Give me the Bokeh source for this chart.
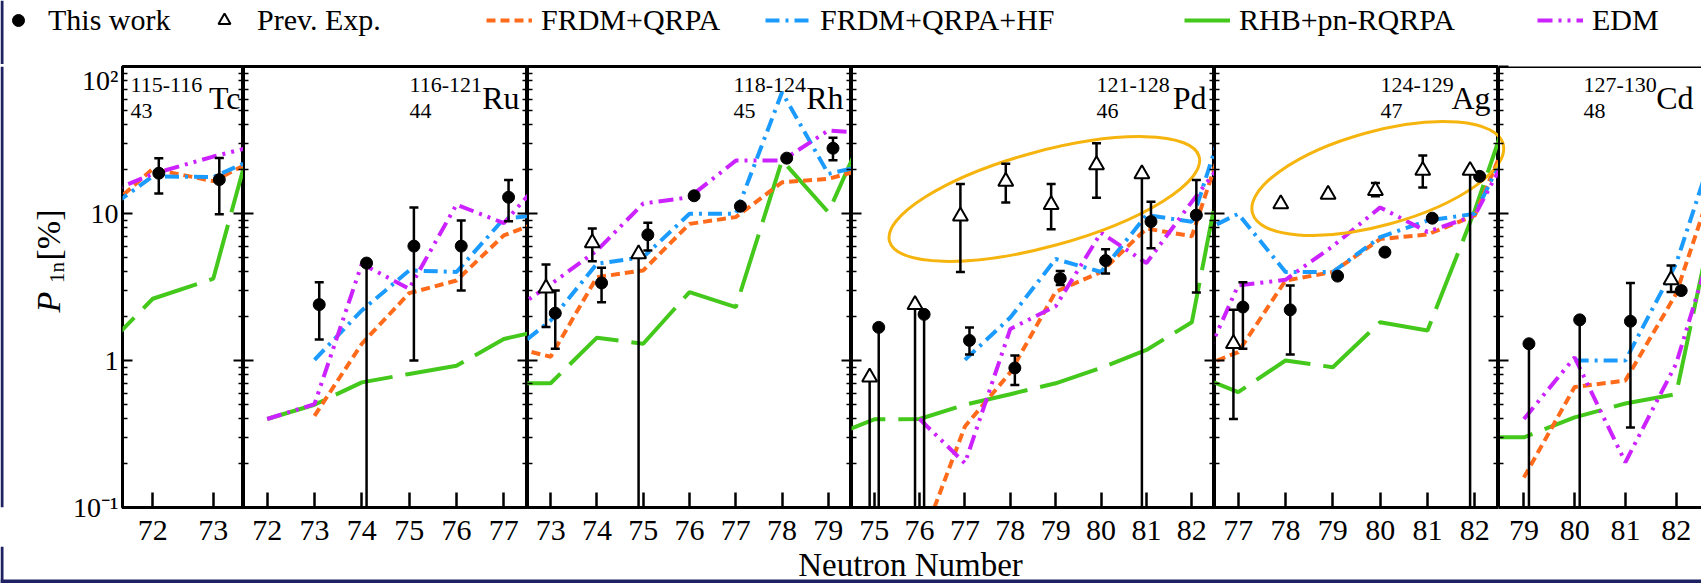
import math
from bokeh.plotting import figure
from bokeh.models import (ColumnDataSource, Range1d, LogAxis, FixedTicker,
                          CustomJSTickFormatter, Label, Legend, LegendItem, Span, BoxAnnotation)
from bokeh.layouts import row, column
from bokeh.transform import dodge
from bokeh.embed import file_html
from bokeh.resources import INLINE

nan = float("nan")

# ---------------------------------------------------------------- data
ELEMENTS = ["Tc", "Ru", "Rh", "Pd", "Ag", "Cd"]
Z_NUMBERS = ["43", "44", "45", "46", "47", "48"]
MASS_RANGES = ["115-116", "116-121", "118-124", "121-128", "124-129", "127-130"]
N_TICKS = [[72, 73], [72, 73, 74, 75, 76, 77], [73, 74, 75, 76, 77, 78, 79],
           [75, 76, 77, 78, 79, 80, 81, 82], [77, 78, 79, 80, 81, 82], [79, 80, 81, 82]]
Y_TICKS = [0.1, 1, 10, 100]
Y_TICK_LABELS = ["10\u207b\u00b9", "1", "10", "10\u00b2"]
SERIES_LABELS = ["This work", "Prev. Exp.", "FRDM+QRPA", "FRDM+QRPA+HF", "RHB+pn-RQRPA", "EDM"]

# theory curves (P1n in %)
TC_N = [71, 72, 73, 74]
TC_FRDM = [8.7, 20.1, 16.6, 27]
TC_HF = [9.0, 17.9, 17.7, 27]
TC_RHB = [1.0, 2.63, 3.6, 115]
TC_EDM = [12.5, 18.6, 24.4, 31]

RU_N = [72, 73, 74, 75, 76, 77, 78]
RU_FRDM = [nan, 0.42, 1.30, 2.87, 3.5, 7.1, 9.4]
RU_HF = [nan, 1.01, 2.19, 4.1, 4.0, 9.2, 10]
RU_RHB = [0.40, 0.50, 0.71, 0.81, 0.92, 1.40, 1.66]
RU_EDM = [0.40, 0.505, 4.55, 3.08, 11.5, 8.6, 20]

RH_N = [72, 73, 74, 75, 76, 77, 78, 79, 80]
RH_FRDM = [1.27, 1.06, 3.69, 4.1, 8.5, 9.45, 16.3, 17.2, 21]
RH_HF = [1.05, 1.87, 4.55, 5.05, 9.95, 9.95, 66.8, 18.6, 22]
RH_RHB = [0.70, 0.70, 1.43, 1.30, 2.92, 2.31, 23.0, 10.2, 51]
RH_EDM = [2.0, 3.3, 5.6, 11.7, 12.9, 22.9, 22.9, 36.7, 35]

PD_N = [74, 75, 76, 77, 78, 79, 80, 81, 82, 83]
PD_FRDM = [nan, nan, 0.054, 0.356, 0.83, 2.94, 4.0, 7.9, 7.0, 60]
PD_HF = [nan, nan, nan, 1.01, 1.96, 4.9, 4.0, 9.75, 8.8, 80]
PD_RHB = [0.30, 0.398, 0.40, 0.50, 0.59, 0.70, 0.89, 1.18, 1.82, 70]
PD_EDM = [nan, nan, 0.40, 0.20, 1.64, 2.34, 7.4, 4.6, 12, 30]

AG_N = [76, 77, 78, 79, 80, 81, 82, 83]
AG_FRDM = [0.85, 1.14, 3.5, 4.0, 6.7, 7.2, 9.7, 57]
AG_HF = [6.9, 9.95, 4.0, 4.0, 6.9, 8.96, 9.95, 45]
AG_RHB = [0.82, 0.61, 1.0, 0.90, 1.82, 1.60, 10.5, 93]
AG_EDM = [0.62, 3.24, 3.54, 6.0, 11.0, 7.5, 9.7, 39]

CD_N = [78, 79, 80, 81, 82, 83]
CD_FRDM = [nan, 0.16, 0.66, 0.73, 2.84, 31]
CD_HF = [nan, nan, 1.0, 1.0, 4.55, 52]
CD_RHB = [0.30, 0.30, 0.41, 0.51, 0.59, 25]
CD_EDM = [nan, 0.40, 1.05, 0.203, 0.95, 13]

# this work (value, lower end, upper end of error bar; 0 = bar reaches zero)
TC_WORK_N = [72, 73]
TC_WORK_P = [18.8, 17.0]
TC_WORK_LO = [13.7, 9.9]
TC_WORK_HI = [23.8, 23.9]

RU_WORK_N = [73, 74, 75, 76, 77]
RU_WORK_P = [2.4, 4.6, 6.0, 6.0, 12.9]
RU_WORK_LO = [1.39, 0, 1.0, 2.99, 8.87]
RU_WORK_HI = [3.41, 4.6, 11.0, 8.95, 16.9]

RH_WORK_N = [73, 74, 75, 76, 77, 78, 79]
RH_WORK_P = [2.10, 3.37, 7.16, 13.2, 11.2, 23.8, 27.8]
RH_WORK_LO = [1.2, 2.49, 5.6, 13.2, 11.2, 23.8, 23.0]
RH_WORK_HI = [2.99, 4.27, 8.65, 13.2, 11.2, 23.8, 32.7]

PD_WORK_N = [75, 76, 77, 78, 79, 80, 81, 82]
PD_WORK_P = [1.68, 2.06, 1.37, 0.89, 3.61, 4.78, 8.81, 9.75]
PD_WORK_LO = [0, 0, 1.10, 0.68, 3.26, 3.90, 5.8, 2.9]
PD_WORK_HI = [1.68, 2.06, 1.68, 1.08, 4.06, 5.71, 12.0, 16.9]

AG_WORK_N = [77, 78, 79, 80, 81, 82]
AG_WORK_P = [2.31, 2.21, 3.75, 5.46, 9.29, 17.9]
AG_WORK_LO = [1.2, 1.10, 3.75, 5.46, 9.29, 17.9]
AG_WORK_HI = [3.41, 3.24, 3.75, 5.46, 9.29, 17.9]

CD_WORK_N = [79, 80, 81, 82]
CD_WORK_P = [1.30, 1.89, 1.85, 2.99]
CD_WORK_LO = [0, 0, 0.35, 2.99]
CD_WORK_HI = [1.30, 1.89, 3.37, 2.99]

# previous experiments
TC_PREV_N, TC_PREV_P, TC_PREV_LO, TC_PREV_HI = [], [], [], []
RU_PREV_N, RU_PREV_P, RU_PREV_LO, RU_PREV_HI = [], [], [], []
RH_PREV_N = [73, 74, 75]
RH_PREV_P = [3.1, 6.3, 5.3]
RH_PREV_LO = [1.69, 4.74, 0]
RH_PREV_HI = [4.5, 7.9, 5.3]
PD_PREV_N = [75, 76, 77, 78, 79, 80, 81]
PD_PREV_P = [0.77, 2.40, 9.6, 16.5, 11.5, 21.4, 18.6]
PD_PREV_LO = [0, 0, 4.0, 11.9, 7.8, 12.8, 0]
PD_PREV_HI = [0.77, 2.40, 15.9, 21.8, 15.9, 30.0, 18.6]
AG_PREV_N = [77, 78, 79, 80, 81, 82]
AG_PREV_P = [1.30, 11.6, 13.5, 14.3, 19.6, 19.6]
AG_PREV_LO = [0.40, 11.6, 13.5, 13.1, 15.0, 0]
AG_PREV_HI = [2.21, 11.6, 13.5, 16.1, 24.8, 19.6]
CD_PREV_N = [82]
CD_PREV_P = [3.54]
CD_PREV_LO = [2.92]
CD_PREV_HI = [4.43]

# highlighted groups (orange ellipses): panel index, centre N, centre P1n
ELLIPSE_PANEL = [3, 4]
ELLIPSE_N = [78.75, 79.95]
ELLIPSE_P = [12.55, 17.3]

THEORY = [
    (TC_N, TC_FRDM, TC_HF, TC_RHB, TC_EDM),
    (RU_N, RU_FRDM, RU_HF, RU_RHB, RU_EDM),
    (RH_N, RH_FRDM, RH_HF, RH_RHB, RH_EDM),
    (PD_N, PD_FRDM, PD_HF, PD_RHB, PD_EDM),
    (AG_N, AG_FRDM, AG_HF, AG_RHB, AG_EDM),
    (CD_N, CD_FRDM, CD_HF, CD_RHB, CD_EDM),
]
WORK = [
    (TC_WORK_N, TC_WORK_P, TC_WORK_LO, TC_WORK_HI),
    (RU_WORK_N, RU_WORK_P, RU_WORK_LO, RU_WORK_HI),
    (RH_WORK_N, RH_WORK_P, RH_WORK_LO, RH_WORK_HI),
    (PD_WORK_N, PD_WORK_P, PD_WORK_LO, PD_WORK_HI),
    (AG_WORK_N, AG_WORK_P, AG_WORK_LO, AG_WORK_HI),
    (CD_WORK_N, CD_WORK_P, CD_WORK_LO, CD_WORK_HI),
]
PREV = [
    (TC_PREV_N, TC_PREV_P, TC_PREV_LO, TC_PREV_HI),
    (RU_PREV_N, RU_PREV_P, RU_PREV_LO, RU_PREV_HI),
    (RH_PREV_N, RH_PREV_P, RH_PREV_LO, RH_PREV_HI),
    (PD_PREV_N, PD_PREV_P, PD_PREV_LO, PD_PREV_HI),
    (AG_PREV_N, AG_PREV_P, AG_PREV_LO, AG_PREV_HI),
    (CD_PREV_N, CD_PREV_P, CD_PREV_LO, CD_PREV_HI),
]

# ---------------------------------------------------------------- style / layout
FONT = "Liberation Serif"
ORANGE = "#FF6B1A"
BLUE = "#1C9BFF"
GREEN = "#44C81C"
MAGENTA = "#CC22FF"
ELLIPSE_COLOR = "#F6B40E"
STRIP = "#1f2262"
LINE_STYLES = {  # key: (color, dash)
    "frdm": (ORANGE, "9 5"),
    "hf": (BLUE, "14 6 3 6"),
    "rhb": (GREEN, "60 13"),
    "edm": (MAGENTA, "15 6 3 6 3 6"),
}
DRAW_ORDER = ["rhb", "frdm", "hf", "edm"]
FRAME_W = [121, 284, 324, 363, 284, 203]
FRAME_H = 441
LEFT_BORDER = 54
TOP_H = 64
BOTTOM_BORDER = 48
ROW_H = 2 + FRAME_H + BOTTOM_BORDER
YLAB_W = 68
TOTAL_W = sum(FRAME_W) + LEFT_BORDER + YLAB_W
OVERLAP = 9                       # x-label strip tucks under the tick-label area
BOTTOM_H = 583 - TOP_H - ROW_H + OVERLAP
ELLIPSE_W = [321, 260]
ELLIPSE_H = [95, 94]
ELLIPSE_ANGLE = [0.267, 0.269]
DODGE = 0.1

y_range = Range1d(0.1, 100)
minor = [m * 10.0 ** e for e in (-1, 0, 1) for m in range(2, 10)]
x_lims = [(t[0] - 0.5, t[-1] + 0.5) for t in N_TICKS]

label_fmt = CustomJSTickFormatter(args=dict(vals=Y_TICKS, labs=Y_TICK_LABELS), code="""
for (let i = 0; i < vals.length; i++) {
  if (Math.abs(Math.log10(tick) - Math.log10(vals[i])) < 1e-6) return labs[i];
}
return '';
""")
blank_fmt = CustomJSTickFormatter(code="return '';")


def y_axis(with_labels, show_line=False):
    return LogAxis(ticker=FixedTicker(ticks=Y_TICKS, minor_ticks=minor),
                   formatter=label_fmt if with_labels else blank_fmt,
                   major_tick_in=10, major_tick_out=0, minor_tick_in=5, minor_tick_out=0,
                   major_tick_line_width=2, minor_tick_line_width=1.5,
                   major_label_standoff=4 if with_labels else 0,
                   major_label_text_font=FONT, major_label_text_font_size="28px",
                   major_label_text_color="black",
                   axis_line_color="black" if show_line else None, axis_line_width=3)


def frame_left_px(i):
    return YLAB_W + LEFT_BORDER + sum(FRAME_W[:i])


def px_per_unit(i):
    return FRAME_W[i] / (x_lims[i][1] - x_lims[i][0])


def text_label(**kw):
    kw.setdefault("text_font", FONT)
    kw.setdefault("text_color", "black")
    kw.setdefault("text_baseline", "middle")
    return Label(**kw)


panels = []
for i in range(6):
    ticks = N_TICKS[i]
    first = i == 0
    last = i == 5
    p = figure(width=FRAME_W[i] + (LEFT_BORDER if first else 0), height=ROW_H,
               x_range=Range1d(*x_lims[i]), y_range=y_range,
               y_axis_type="log", y_axis_location=None, x_axis_location="below",
               output_backend="svg", toolbar_location=None,
               min_border=0, min_border_left=LEFT_BORDER if first else 0,
               min_border_right=0, min_border_top=2, min_border_bottom=BOTTOM_BORDER,
               background_fill_color="white", border_fill_color="white")
    p.grid.visible = False
    if last:
        p.outline_line_color = None
        p.add_layout(Span(location=100, dimension="width", line_color="black", line_width=3))
        p.add_layout(Span(location=x_lims[i][0], dimension="height", line_color="black", line_width=3))
    else:
        p.outline_line_color = "black"
        p.outline_line_width = 3
        p.outline_line_alpha = 1.0

    xa = p.xaxis[0]
    xa.ticker = FixedTicker(ticks=ticks, minor_ticks=[])
    xa.major_tick_in = 15
    xa.major_tick_out = 0
    xa.minor_tick_in = 0
    xa.minor_tick_out = 0
    xa.major_tick_line_width = 2.5
    xa.axis_line_width = 3
    xa.major_label_text_font = FONT
    xa.major_label_text_font_size = "30px"
    xa.major_label_text_color = "black"
    xa.major_label_standoff = 13

    p.add_layout(y_axis(first, show_line=last), "left")
    if not last:
        p.add_layout(y_axis(False), "right")

    # theory curves
    n, frdm, hf, rhb, edm = THEORY[i]
    tsrc = ColumnDataSource(dict(N=n, frdm=frdm, hf=hf, rhb=rhb, edm=edm))
    for key in DRAW_ORDER:
        color, dash = LINE_STYLES[key]
        p.line("N", key, source=tsrc, line_color=color, line_dash=dash, line_width=4)

    # highlight ellipses (an ellipse may spill over into the next panel)
    for k, pi in enumerate(ELLIPSE_PANEL):
        if pi == i or pi == i - 1:
            cx_page = frame_left_px(pi) + (ELLIPSE_N[k] - x_lims[pi][0]) * px_per_unit(pi)
            cx = x_lims[i][0] + (cx_page - frame_left_px(i)) / px_per_unit(i)
            p.ellipse(x=[cx], y=[ELLIPSE_P[k]], width=ELLIPSE_W[k], height=ELLIPSE_H[k],
                      angle=ELLIPSE_ANGLE[k], width_units="screen", height_units="screen",
                      fill_color=None, line_color=ELLIPSE_COLOR, line_width=3)

    # previous experiments (error bars)
    n, pv, lo, hi = PREV[i]
    lo_p = [v if v > 0 else 1e-4 for v in lo]
    psrc = ColumnDataSource(dict(N=n, P=pv, lo=lo_p, hi=hi))
    xp = dodge("N", -DODGE)
    p.segment(x0=xp, y0="lo", x1=xp, y1="hi", source=psrc, line_color="black", line_width=2.5)
    p.scatter(x=xp, y="lo", source=psrc, marker="dash", size=9, line_color="black", line_width=2.5)
    p.scatter(x=xp, y="hi", source=psrc, marker="dash", size=9, line_color="black", line_width=2.5)

    # this work
    n, pv, lo, hi = WORK[i]
    lo_p = [v if v > 0 else 1e-4 for v in lo]
    wsrc = ColumnDataSource(dict(N=n, P=pv, lo=lo_p, hi=hi))
    xw = dodge("N", DODGE)
    p.segment(x0=xw, y0="lo", x1=xw, y1="hi", source=wsrc, line_color="black", line_width=2.5)
    p.scatter(x=xw, y="lo", source=wsrc, marker="dash", size=9, line_color="black", line_width=2.5)
    p.scatter(x=xw, y="hi", source=wsrc, marker="dash", size=9, line_color="black", line_width=2.5)
    p.scatter(x=xw, y="P", source=wsrc, marker="circle", size=12, fill_color="black", line_color="black")
    p.scatter(x=xp, y="P", source=psrc, marker="triangle", size=15, fill_color="white",
              line_color="black", line_width=2)

    # nucleus label (positions are text centres, px above the frame bottom)
    fw = FRAME_W[i]
    sym_gap = 3 if first else 8
    mass_left = 8 if first else fw - 118
    p.add_layout(text_label(x=fw - sym_gap, y=FRAME_H - 31, x_units="screen", y_units="screen",
                            text=ELEMENTS[i], text_align="right", text_font_size="32px"))
    p.add_layout(text_label(x=mass_left, y=FRAME_H - 18, x_units="screen", y_units="screen",
                            text=MASS_RANGES[i], text_align="left", text_font_size="22px"))
    p.add_layout(text_label(x=mass_left, y=FRAME_H - 44, x_units="screen", y_units="screen",
                            text=Z_NUMBERS[i], text_align="left", text_font_size="22px"))
    panels.append(p)

# ---------------------------------------------------------------- y label column
ylab = figure(width=YLAB_W, height=ROW_H, x_range=Range1d(0, YLAB_W), y_range=Range1d(0, ROW_H),
              min_border=0, output_backend="svg", toolbar_location=None,
              x_axis_location=None, y_axis_location=None, outline_line_color=None)
ylab.grid.visible = False


def row_y(page_y):
    return ROW_H + TOP_H - page_y


ylab.add_layout(text_label(x=48, y=row_y(338), text="P", angle=math.pi / 2, text_align="left",
                           text_font_size="34px", text_font_style="italic"))
ylab.add_layout(text_label(x=56, y=row_y(305), text="1n", angle=math.pi / 2, text_align="left",
                           text_font_size="21px"))
ylab.add_layout(text_label(x=48, y=row_y(280), text="[%]", angle=math.pi / 2, text_align="left",
                           text_font_size="34px"))
ylab.add_layout(BoxAnnotation(left=0, right=3, fill_color=STRIP, fill_alpha=1, line_color=None))

# ---------------------------------------------------------------- legend strip
top = figure(width=TOTAL_W, height=TOP_H, x_range=Range1d(0, 1), y_range=Range1d(0, 1),
             min_border=0, output_backend="svg", toolbar_location=None,
             x_axis_location=None, y_axis_location=None, outline_line_color=None)
top.grid.visible = False
top.add_layout(BoxAnnotation(left=0, right=3, left_units="screen", right_units="screen",
                             fill_color=STRIP, fill_alpha=1, line_color=None))
OFF = [-5, -4]  # placeholder point outside the visible range, only for legend glyphs
dummy = [
    top.scatter(x=OFF[:1], y=OFF[:1], marker="circle", size=12, fill_color="black", line_color="black"),
    top.scatter(x=OFF[:1], y=OFF[:1], marker="triangle", size=13, fill_color="white",
                line_color="black", line_width=2),
]
for key in ["frdm", "hf", "rhb", "edm"]:
    color, dash = LINE_STYLES[key]
    dummy.append(top.line(x=OFF, y=OFF, line_color=color, line_dash=dash, line_width=4))

LEGEND_X = [3, 209, 486, 765, 1184, 1537]
LEGEND_GW = [30, 30, 46, 46, 46, 46]
LEGEND_SO = [15, 18, 9, 9, 9, 9]
for k in range(6):
    leg = Legend(items=[LegendItem(label=SERIES_LABELS[k], renderers=[dummy[k]])],
                 location=(LEGEND_X[k], 27), orientation="horizontal",
                 padding=0, margin=0, spacing=0, border_line_color=None,
                 background_fill_alpha=0, glyph_width=LEGEND_GW[k], glyph_height=30,
                 label_height=30, label_standoff=LEGEND_SO[k],
                 label_text_font=FONT, label_text_font_size="30px",
                 label_text_color="black", label_text_baseline="middle")
    top.add_layout(leg)

# ---------------------------------------------------------------- x label strip
bottom = figure(width=TOTAL_W, height=BOTTOM_H, x_range=Range1d(0, TOTAL_W), y_range=Range1d(0, BOTTOM_H),
                min_border=0, output_backend="svg", toolbar_location=None,
                x_axis_location=None, y_axis_location=None, outline_line_color=None,
                background_fill_alpha=0, border_fill_alpha=0, margin=(-OVERLAP, 0, 0, 0))
bottom.grid.visible = False
bottom.add_layout(text_label(x=910, y=18.5, text="Neutron Number", text_align="center",
                             text_font_size="33px"))
bottom.add_layout(BoxAnnotation(bottom=0, top=4, fill_color=STRIP, fill_alpha=1, line_color=None))
bottom.add_layout(BoxAnnotation(left=0, right=3, fill_color=STRIP, fill_alpha=1, line_color=None))

layout = column(top, row(ylab, *panels), bottom)
open("out.html", "w").write(file_html(layout, INLINE))
